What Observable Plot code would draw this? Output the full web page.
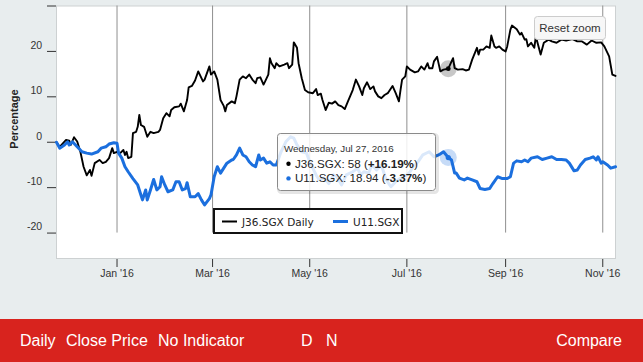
<!DOCTYPE html>
<html>
<head>
<meta charset="utf-8">
<script src="https://cdn.jsdelivr.net/npm/d3@7"></script>
<script src="https://cdn.jsdelivr.net/npm/@observablehq/plot@0.6"></script>
<style>
  html, body { margin: 0; padding: 0; }
  body { width: 643px; height: 362px; overflow: hidden; background: #e8edee; position: relative; font-family: "Liberation Sans", Arial, sans-serif; }
  #chart { position: absolute; left: 0; top: 0; }
  #overlay { position: absolute; left: 0; top: 0; pointer-events: none; }
  #bar { position: absolute; left: 0; top: 319px; width: 643px; height: 43px; background: #d8231e; color: #fff; font-size: 16px; line-height: 43px; }
  #bar span { position: absolute; top: 0; white-space: nowrap; }
</style>
</head>
<body>
<div id="chart"></div>
<svg id="overlay" width="643" height="319"></svg>
<div id="bar"></div>
<script>
// ---- data (percentage change since start) ----
const seriesNames = ["J36.SGX Daily", "U11.SGX"];
const j36Points = [
  ["2015-11-24",0],["2015-11-26",-1.0],["2015-11-30",0.5],["2015-12-02",0.35],["2015-12-03",-0.6],["2015-12-05",1.1],
  ["2015-12-07",0.15],["2015-12-09",-2.1],["2015-12-11",-5.4],["2015-12-13",-7.3],["2015-12-15",-6.1],["2015-12-16",-7.4],
  ["2015-12-18",-4.6],["2015-12-21",-3.9],["2015-12-23",-4.6],["2015-12-25",-4.3],["2015-12-27",-3.5],["2015-12-29",-1.3],
  ["2015-12-30",-2.4],["2016-01-01",-2.1],["2016-01-03",-2.4],["2016-01-05",-1.7],["2016-01-06",-2.8],["2016-01-07",-2.1],
  ["2016-01-08",-3.5],["2016-01-10",-3.2],["2016-01-11",2.0],["2016-01-13",2.3],["2016-01-14",3.4],["2016-01-15",6.0],
  ["2016-01-16",3.8],["2016-01-18",3.4],["2016-01-20",1.2],["2016-01-22",2.3],["2016-01-24",2.0],["2016-01-27",2.3],
  ["2016-01-28",2.7],["2016-01-30",5.3],["2016-02-01",6.4],["2016-02-03",5.7],["2016-02-04",7.1],["2016-02-06",7.7],
  ["2016-02-09",7.9],["2016-02-10",8.5],["2016-02-12",6.8],["2016-02-14",9.3],["2016-02-15",12.1],["2016-02-17",12.4],
  ["2016-02-19",13.6],["2016-02-21",15.6],["2016-02-24",13.4],["2016-02-25",13.8],["2016-02-28",16.7],["2016-02-29",14.9],
  ["2016-03-02",15.6],["2016-03-04",13.8],["2016-03-06",9.3],["2016-03-08",8.0],["2016-03-09",6.8],["2016-03-10",8.2],
  ["2016-03-13",9.0],["2016-03-15",8.6],["2016-03-16",10.1],["2016-03-18",13.8],["2016-03-20",14.5],["2016-03-22",14.1],
  ["2016-03-24",14.9],["2016-03-26",13.8],["2016-03-28",13.0],["2016-03-29",14.1],["2016-03-31",14.3],["2016-04-02",12.7],
  ["2016-04-03",13.4],["2016-04-05",14.9],["2016-04-06",18.5],["2016-04-07",17.4],["2016-04-09",16.3],["2016-04-10",17.4],
  ["2016-04-12",16.7],["2016-04-15",17.1],["2016-04-17",17.4],["2016-04-18",16.3],["2016-04-20",17.1],["2016-04-21",22.0],
  ["2016-04-23",20.8],["2016-04-24",17.4],["2016-04-26",14.1],["2016-04-28",11.5],["2016-04-30",11.0],["2016-05-03",10.8],
  ["2016-05-05",11.7],["2016-05-06",10.4],["2016-05-08",10.7],["2016-05-09",9.3],["2016-05-11",7.1],["2016-05-13",8.7],
  ["2016-05-15",8.5],["2016-05-17",9.0],["2016-05-19",8.2],["2016-05-21",7.9],["2016-05-23",7.3],["2016-05-25",9.0],
  ["2016-05-28",11.5],["2016-05-30",13.8],["2016-06-01",12.3],["2016-06-03",10.4],["2016-06-04",11.9],["2016-06-06",13.2],
  ["2016-06-08",11.7],["2016-06-10",12.3],["2016-06-11",11.2],["2016-06-13",10.1],["2016-06-15",9.7],["2016-06-17",10.4],
  ["2016-06-19",10.8],["2016-06-22",12.4],["2016-06-24",10.8],["2016-06-26",9.0],["2016-06-27",11.5],["2016-06-28",13.8],
  ["2016-06-30",14.5],["2016-07-01",16.7],["2016-07-03",16.0],["2016-07-06",15.4],["2016-07-08",15.6],["2016-07-10",16.7],
  ["2016-07-12",16.0],["2016-07-14",17.4],["2016-07-15",16.3],["2016-07-17",16.3],["2016-07-18",17.8],["2016-07-20",18.8],
  ["2016-07-22",15.6],["2016-07-24",16.0],["2016-07-27",16.19],["2016-07-30",18.5],["2016-07-31",16.3],["2016-08-02",16.0],
  ["2016-08-05",16.1],["2016-08-07",15.8],["2016-08-09",16.0],["2016-08-11",18.2],["2016-08-14",20.8],["2016-08-15",19.3],
  ["2016-08-16",20.4],["2016-08-18",20.4],["2016-08-20",21.1],["2016-08-22",20.8],["2016-08-23",23.5],["2016-08-25",21.1],
  ["2016-08-26",20.8],["2016-08-28",21.1],["2016-08-30",20.4],["2016-09-01",20.0],["2016-09-02",21.1],["2016-09-04",24.8],
  ["2016-09-05",25.7],["2016-09-08",24.9],["2016-09-10",23.7],["2016-09-11",24.1],["2016-09-13",22.6],["2016-09-14",22.7],
  ["2016-09-15",21.1],["2016-09-17",21.9],["2016-09-19",20.8],["2016-09-20",23.3],["2016-09-23",19.3],["2016-09-25",21.9],
  ["2016-09-28",22.6],["2016-09-30",22.2],["2016-10-03",21.9],["2016-10-06",22.6],["2016-10-09",22.4],["2016-10-13",22.7],
  ["2016-10-16",22.2],["2016-10-19",22.2],["2016-10-22",21.5],["2016-10-25",22.4],["2016-10-28",21.9],["2016-10-31",22.0],
  ["2016-11-02",21.1],["2016-11-05",18.9],["2016-11-07",14.9],["2016-11-09",14.6]
];
const u11Points = [
  ["2015-11-24",0],["2015-11-26",-1.3],["2015-11-29",-0.6],["2015-12-01",0.1],["2015-12-02",-0.6],["2015-12-04",0.1],
  ["2015-12-07",-1.0],["2015-12-10",-2.1],["2015-12-13",-2.4],["2015-12-16",-2.6],["2015-12-20",-2.1],["2015-12-22",-1.3],
  ["2015-12-25",-1.0],["2015-12-27",-0.4],["2015-12-30",-0.1],["2016-01-01",-0.2],["2016-01-02",-2.4],["2016-01-04",-3.5],
  ["2016-01-06",-5.4],["2016-01-08",-6.5],["2016-01-11",-8.0],["2016-01-14",-9.4],["2016-01-16",-11.6],["2016-01-17",-12.7],
  ["2016-01-19",-10.5],["2016-01-20",-12.7],["2016-01-22",-10.5],["2016-01-24",-8.2],["2016-01-26",-10.5],["2016-01-28",-9.8],
  ["2016-01-29",-7.6],["2016-01-31",-9.4],["2016-02-02",-10.9],["2016-02-05",-10.5],["2016-02-07",-8.7],["2016-02-09",-8.7],
  ["2016-02-11",-10.5],["2016-02-13",-10.2],["2016-02-14",-8.9],["2016-02-16",-12.0],["2016-02-19",-12.0],["2016-02-21",-11.3],
  ["2016-02-23",-12.7],["2016-02-25",-13.8],["2016-02-28",-12.4],["2016-02-29",-11.6],["2016-03-02",-7.6],["2016-03-04",-5.4],
  ["2016-03-06",-6.8],["2016-03-08",-5.7],["2016-03-10",-4.6],["2016-03-13",-3.9],["2016-03-14",-3.8],["2016-03-16",-2.8],
  ["2016-03-18",-1.3],["2016-03-20",-2.8],["2016-03-22",-3.2],["2016-03-24",-4.3],["2016-03-26",-5.0],["2016-03-28",-5.4],
  ["2016-03-30",-2.8],["2016-03-31",-3.9],["2016-04-02",-3.5],["2016-04-04",-4.6],["2016-04-06",-4.3],["2016-04-08",-5.0],
  ["2016-04-10",-5.0],["2016-04-13",-2.1],["2016-04-16",0.1],["2016-04-19",1.2],["2016-04-21",0.9],["2016-04-23",-0.6],
  ["2016-04-26",-2.1],["2016-04-29",-2.4],["2016-05-01",-4.3],["2016-05-05",-7.2],["2016-05-07",-8.3],["2016-05-10",-7.9],
  ["2016-05-13",-9.1],["2016-05-16",-7.2],["2016-05-18",-7.6],["2016-05-21",-9.4],["2016-05-24",-7.2],["2016-05-28",-6.5],
  ["2016-05-31",-5.7],["2016-06-02",-7.2],["2016-06-04",-6.5],["2016-06-07",-6.8],["2016-06-09",-5.0],["2016-06-12",-6.1],
  ["2016-06-15",-5.0],["2016-06-18",-8.3],["2016-06-21",-9.8],["2016-06-24",-8.7],["2016-06-27",-7.9],["2016-07-01",-7.2],
  ["2016-07-03",-6.5],["2016-07-05",-5.4],["2016-07-08",-4.3],["2016-07-11",-2.8],["2016-07-15",-2.1],["2016-07-18",-3.2],
  ["2016-07-21",-2.8],["2016-07-24",-2.1],["2016-07-27",-3.37],["2016-07-29",-3.9],["2016-07-31",-6.8],["2016-08-01",-6.8],
  ["2016-08-03",-7.9],["2016-08-06",-8.3],["2016-08-08",-7.9],["2016-08-11",-8.3],["2016-08-14",-8.7],["2016-08-16",-10.2],
  ["2016-08-19",-10.4],["2016-08-22",-10.2],["2016-08-24",-9.1],["2016-08-27",-7.6],["2016-08-30",-8.0],["2016-09-02",-8.0],
  ["2016-09-04",-7.6],["2016-09-06",-4.6],["2016-09-08",-4.1],["2016-09-11",-4.3],["2016-09-13",-3.9],["2016-09-15",-4.3],
  ["2016-09-17",-3.5],["2016-09-21",-3.2],["2016-09-24",-3.8],["2016-09-27",-3.5],["2016-09-30",-3.2],["2016-10-03",-3.8],
  ["2016-10-06",-3.8],["2016-10-09",-3.9],["2016-10-11",-4.6],["2016-10-14",-6.3],["2016-10-16",-6.1],["2016-10-18",-5.0],
  ["2016-10-21",-3.8],["2016-10-24",-3.5],["2016-10-26",-3.2],["2016-10-28",-3.9],["2016-10-29",-3.2],["2016-10-31",-4.6],
  ["2016-11-01",-4.3],["2016-11-04",-5.0],["2016-11-06",-5.7],["2016-11-09",-5.4]
];
const yTickValues = [-20, -10, 0, 10, 20, 30];
const yLabelValues = [-20, -10, 0, 10, 20];
const xDomain = ["2015-11-24", "2016-11-09"];
const hoverDate = "2016-07-27";
const tooltipHeader = "Wednesday, Jul 27, 2016";
const tooltipRows = [
  {name: "J36.SGX", price: "58", change: "+16.19%"},
  {name: "U11.SGX", price: "18.94", change: "-3.37%"}
];
const bottomMenu = ["Daily", "Close Price", "No Indicator", "D", "N", "Compare"];
const colors = {j36: "#000000", u11: "#1b6fde"};

// ---- build ----
const toRows = pts => pts.map(([d, v]) => ({date: new Date(d), pct: v}));
const j36 = toRows(j36Points);
const u11 = toRows(u11Points);
const start = new Date(xDomain[0]), end = new Date(xDomain[1]);
const xTicks = d3.utcMonth.every(2).range(start, end);
const hover = +new Date(hoverDate);
const j36Hover = j36.filter(d => +d.date === hover);
const u11Hover = u11.filter(d => +d.date === hover);
const fmtMonth = d3.utcFormat("%b '%y");

const chart = Plot.plot({
  width: 643,
  height: 319,
  marginLeft: 56,
  marginRight: 28,
  marginTop: 5.5,
  marginBottom: 61,
  style: {background: "transparent", fontFamily: "Liberation Sans, Arial, sans-serif", fontSize: "10.5px", color: "#333", overflow: "visible"},
  x: {type: "utc", domain: [start, end], ticks: xTicks, tickSize: 9, tickPadding: 2, tickFormat: fmtMonth, label: null},
  y: {domain: [-25.6, 30], ticks: yTickValues, tickSize: 9, tickFormat: () => "", label: null},
  marks: [
    Plot.frame({fill: "white", stroke: "#cdd1d2"}),
    Plot.ruleX(xTicks, {y1: -20, y2: 30, stroke: "#8f8f8f", strokeWidth: 1}),
    Plot.text(yLabelValues, {y: d => d, text: d => String(d), frameAnchor: "left", textAnchor: "end", dx: -14.3, dy: -6, fill: "#333"}),
    Plot.lineY(j36, {x: "date", y: "pct", stroke: colors.j36, strokeWidth: 1.9}),
    Plot.lineY(u11, {x: "date", y: "pct", stroke: colors.u11, strokeWidth: 3}),
    Plot.dot(j36Hover, {x: "date", y: "pct", r: 8.5, fill: "#000", fillOpacity: 0.22, stroke: "none"}),
    Plot.dot(j36Hover, {x: "date", y: "pct", r: 2.4, fill: colors.j36, stroke: "none"}),
    Plot.dot(u11Hover, {x: "date", y: "pct", r: 8.5, fill: colors.u11, fillOpacity: 0.25, stroke: "none"}),
    Plot.dot(u11Hover, {x: "date", y: "pct", r: 2.6, fill: colors.u11, stroke: "none"})
  ]
});
document.getElementById("chart").appendChild(chart);

// ---- overlay: axis title, tooltip, legend, reset button ----
const ov = d3.select("#overlay");
ov.append("text")
  .attr("transform", "translate(18,119) rotate(-90)")
  .attr("text-anchor", "middle")
  .attr("font-family", "Liberation Sans, Arial, sans-serif")
  .attr("font-size", 11).attr("font-weight", "bold").attr("fill", "#222")
  .text("Percentage");

// tooltip
const tt = ov.append("g");
tt.append("rect").attr("x", 278.5).attr("y", 134.5).attr("width", 159).attr("height", 58).attr("rx", 3)
  .attr("fill", "none").attr("stroke", "rgba(0,0,0,0.10)").attr("stroke-width", 3);
tt.append("rect").attr("x", 277.5).attr("y", 133.5).attr("width", 158).attr("height", 57).attr("rx", 3)
  .attr("fill", "rgba(255,255,255,0.84)").attr("stroke", "#8a8a8a").attr("stroke-width", 1);
tt.append("text").attr("x", 284).attr("y", 152).attr("font-family", "Liberation Sans, Arial, sans-serif")
  .attr("font-size", 9.8).attr("fill", "#333").text(tooltipHeader);
[[colors.j36, 167.5], [colors.u11, 182.2]].forEach(([c, yb], i) => {
  const r = tooltipRows[i];
  tt.append("circle").attr("cx", 288.5).attr("cy", yb - 3.8).attr("r", 2.2).attr("fill", c);
  const t = tt.append("text").attr("x", 295).attr("y", yb).attr("font-family", "Liberation Sans, Arial, sans-serif")
    .attr("font-size", 11.6).attr("fill", "#222");
  t.append("tspan").text(`${r.name}: ${r.price} (`);
  t.append("tspan").attr("font-weight", "bold").text(r.change);
  t.append("tspan").text(")");
});

// legend
const lg = ov.append("g").attr("font-family", "DejaVu Sans, Verdana, sans-serif").attr("font-size", 10.5).attr("fill", "#222");
lg.append("rect").attr("x", 214).attr("y", 209).attr("width", 188).attr("height", 24)
  .attr("fill", "white").attr("stroke", "#111").attr("stroke-width", 2);
lg.append("line").attr("x1", 222).attr("x2", 237).attr("y1", 221.5).attr("y2", 221.5).attr("stroke", colors.j36).attr("stroke-width", 2);
lg.append("text").attr("x", 242).attr("y", 225.5).text(seriesNames[0]);
lg.append("line").attr("x1", 333).attr("x2", 348).attr("y1", 221.5).attr("y2", 221.5).attr("stroke", colors.u11).attr("stroke-width", 3);
lg.append("text").attr("x", 353).attr("y", 225.5).text(seriesNames[1]);

// reset zoom button
const rb = ov.append("g");
rb.append("rect").attr("x", 534.5).attr("y", 16.5).attr("width", 71).attr("height", 23).attr("rx", 3)
  .attr("fill", "#f7f7f7").attr("stroke", "#cccccc");
rb.append("text").attr("x", 570).attr("y", 32).attr("text-anchor", "middle")
  .attr("font-family", "Liberation Sans, Arial, sans-serif").attr("font-size", 11.5).attr("fill", "#333").text("Reset zoom");

// bottom bar
const bar = d3.select("#bar");
const lefts = [20, 66, 158, 301, 326];
bottomMenu.forEach((label, i) => {
  const s = bar.append("span").text(label);
  if (i < lefts.length) s.style("left", lefts[i] + "px");
  else s.style("right", "21px");
});
</script>
</body>
</html>
